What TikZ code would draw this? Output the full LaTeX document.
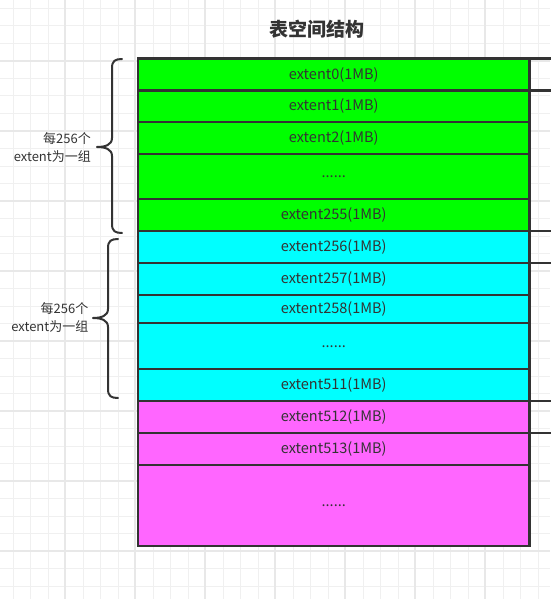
\documentclass[tikz,border=0pt]{standalone}
\usepackage{fontspec}
\setmainfont{Noto Sans CJK SC}
\definecolor{ink}{HTML}{333333}
\definecolor{gminor}{HTML}{F0F0F0}
\definecolor{gmajor}{HTML}{E8E8E8}
\definecolor{cgreen}{HTML}{00FF00}
\definecolor{ccyan}{HTML}{00FFFF}
\definecolor{cpink}{HTML}{FF66FF}
\begin{document}
\begin{tikzpicture}[x=1pt,y=-1pt,
  minorline/.style={draw=gminor,line width=1pt},
  majorline/.style={draw=gmajor,line width=1.6pt},
  rowbox/.style={draw=ink,line width=2.2pt,minimum width=391.5pt,inner sep=0pt,outer sep=0pt,
     text=ink,font=\fontsize{14.5}{16}\selectfont},
  grouplabel/.style={anchor=east,align=right,text=ink,inner sep=0pt,
     font=\fontsize{13}{18}\selectfont},
  bracepath/.style={draw=ink,line width=2pt,line cap=round,line join=round},
  sideline/.style={draw=ink,line width=2.2pt}]
\useasboundingbox (0,0) rectangle (550,599);
% grid
\foreach \x in {13,30.5,...,550} \draw[minorline] (\x,0) -- (\x,599);
\foreach \y in {8.5,26,...,599} \draw[minorline] (0,\y) -- (550,\y);
\foreach \x in {65,135,...,550} \draw[majorline] (\x,0) -- (\x,599);
\foreach \y in {61,131,...,599} \draw[majorline] (0,\y) -- (550,\y);
% title
\node[text=ink,font=\fontsize{19}{22}\selectfont\bfseries] (title) at (316.5,29) {表空间结构};
% rows
\node[rowbox,fill=cgreen,minimum height=32pt] (r0) at (333.75,74.5) {extent0(1MB)};
\node[rowbox,fill=cgreen,minimum height=31.5pt] (r1) at (333.75,106.25) {extent1(1MB)};
\node[rowbox,fill=cgreen,minimum height=32pt] (r2) at (333.75,138) {extent2(1MB)};
\node[rowbox,fill=cgreen,minimum height=44.7pt] (rd1) at (333.75,176.35) {\raisebox{-3pt}{......}};
\node[rowbox,fill=cgreen,minimum height=32.3pt] (r255) at (333.75,214.85) {extent255(1MB)};
\node[rowbox,fill=ccyan,minimum height=32pt] (r256) at (333.75,247) {extent256(1MB)};
\node[rowbox,fill=ccyan,minimum height=32pt] (r257) at (333.75,279) {extent257(1MB)};
\node[rowbox,fill=ccyan,minimum height=28pt] (r258) at (333.75,309) {extent258(1MB)};
\node[rowbox,fill=ccyan,minimum height=46pt] (rd2) at (333.75,346) {\raisebox{-3pt}{......}};
\node[rowbox,fill=ccyan,minimum height=32pt] (r511) at (333.75,385) {extent511(1MB)};
\node[rowbox,fill=cpink,minimum height=32pt] (r512) at (333.75,417) {extent512(1MB)};
\node[rowbox,fill=cpink,minimum height=32pt] (r513) at (333.75,449) {extent513(1MB)};
\node[rowbox,fill=cpink,minimum height=81pt] (rd3) at (333.75,505.5) {\raisebox{-3pt}{......}};
% side lines running off the right edge
\coordinate (edge) at (551,0);
\draw[sideline] (r0.north east) -- (r0.north east -| edge);
\draw[sideline] (r0.south east) -- (r0.south east -| edge);
\draw[sideline] (r255.south east) -- (r255.south east -| edge);
\draw[sideline] (r256.south east) -- (r256.south east -| edge);
\draw[sideline] (r512.north east) -- (r512.north east -| edge);
\draw[sideline] (r512.south east) -- (r512.south east -| edge);
% group labels
\node[grouplabel] (g1) at (91,147) {每256个\\extent为一组};
\node[grouplabel] (g2) at (88.5,317.5) {每256个\\extent为一组};
% braces
\draw[bracepath] (122,59) .. controls (115,59) and (112,61) .. (112,68) -- (112,138)
  .. controls (112,145) and (105,147) .. (97,147)
  .. controls (105,147) and (112,149) .. (112,156) -- (112,224)
  .. controls (112,231) and (115,233) .. (122,233);
\draw[bracepath] (118,239) .. controls (111,239) and (108,241) .. (108,248) -- (108,309)
  .. controls (108,316) and (101,318) .. (93,318)
  .. controls (101,318) and (108,320) .. (108,327) -- (108,389)
  .. controls (108,396) and (111,398) .. (118,398);
\end{tikzpicture}
\end{document}
